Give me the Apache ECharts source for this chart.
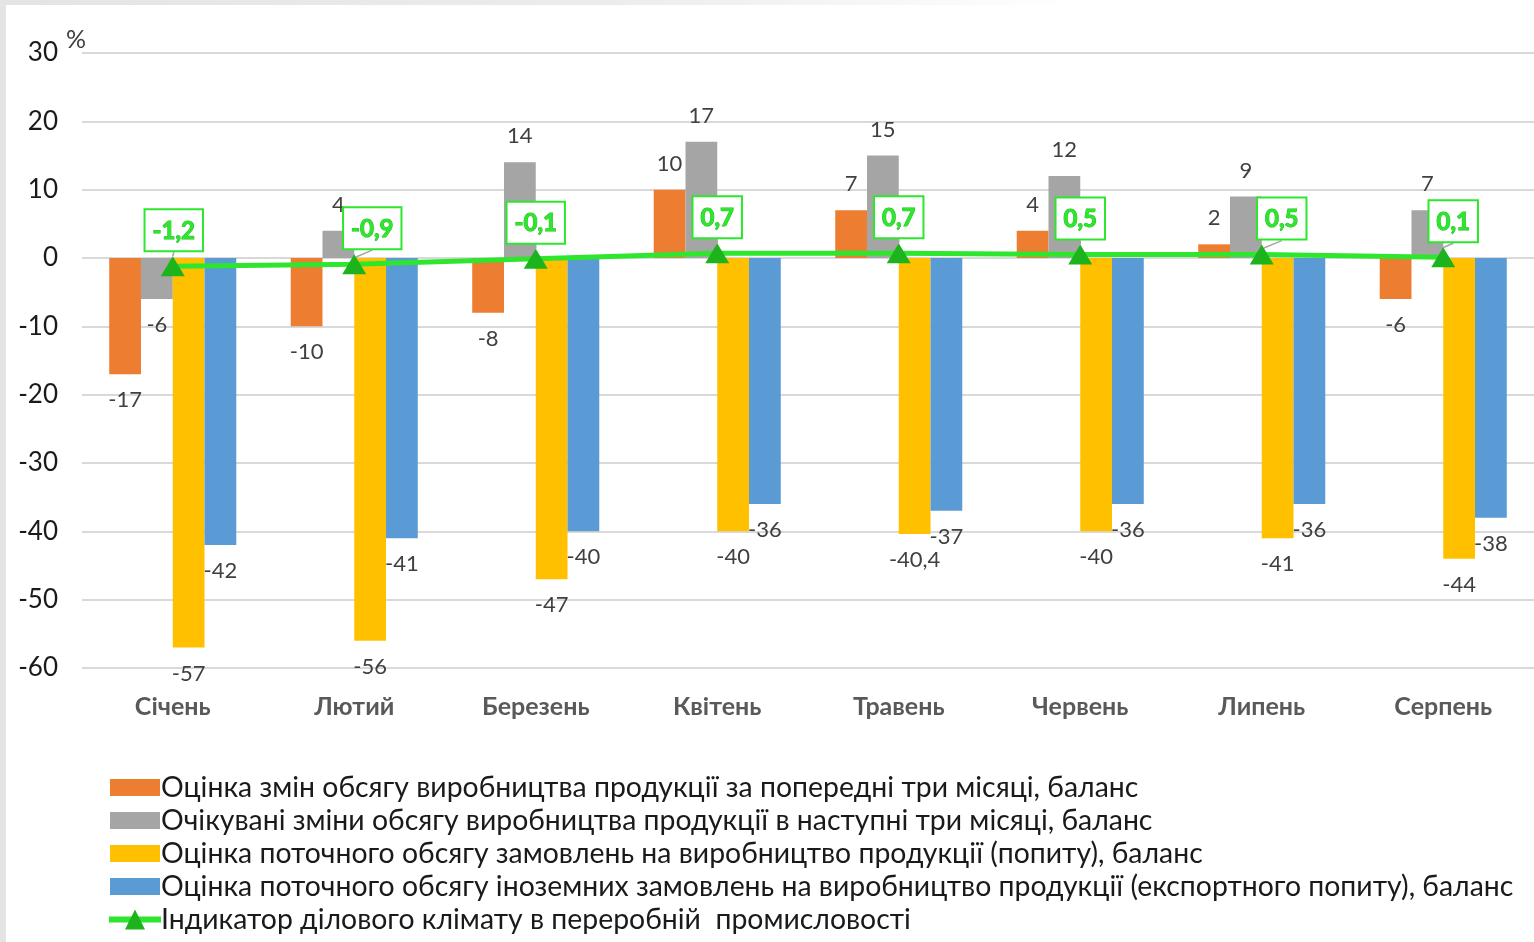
<!DOCTYPE html>
<html>
<head>
<meta charset="utf-8">
<script src="https://cdn.jsdelivr.net/npm/echarts@6/dist/echarts.min.js"></script>
<style>
html,body{margin:0;padding:0;width:1534px;height:942px;overflow:hidden;background:#fff;}
#frameL{position:absolute;left:0;top:0;width:6px;height:942px;background:#e4e4e4;}
#frameT{position:absolute;left:0;top:0;width:1534px;height:5px;background:linear-gradient(to right,#e4e4e4 0%,#ececec 40%,#ffffff 70%);}
#chart{position:absolute;left:6px;top:5px;width:1528px;height:937px;background:#fff;}
</style>
</head>
<body>
<div id="frameL"></div><div id="frameT"></div>
<div id="chart"></div>
<script>
const months = ['Січень','Лютий','Березень','Квітень','Травень','Червень','Липень','Серпень'];
const seriesNames = [
  'Оцінка змін обсягу виробництва продукції за попередні три місяці, баланс',
  'Очікувані зміни обсягу виробництва продукції в наступні три місяці, баланс',
  'Оцінка поточного обсягу замовлень на виробництво продукції (попиту), баланс',
  'Оцінка поточного обсягу іноземних замовлень на виробництво продукції (експортного попиту), баланс',
  'Індикатор ділового клімату в переробній  промисловості'
];
const productionPast = [-17, -10, -8, 10, 7, 4, 2, -6];
const productionNext = [-6, 4, 14, 17, 15, 12, 9, 7];
const ordersCurrent = [-57, -56, -47, -40, -40.4, -40, -41, -44];
const exportOrders = [-42, -41, -40, -36, -37, -36, -36, -38];
const climateIndicator = [-1.2, -0.9, -0.1, 0.7, 0.7, 0.5, 0.5, 0.1];
const yTicks = {min: -60, max: 30, step: 10};

const climateLabelShift = [1, 18, 0, 0, 0, 0, 20, 10];
const fmt = v => String(v).replace('.', ',');
const barColors = ['#ED7D31', '#A5A5A5', '#FFC000', '#5B9BD5'];
const barLegendIcon = 'path://M0,0 M0,4 L50,4 L50,21 L0,21 Z M50,25';

function barSeries(name, values, color) {
  return {
    name: name,
    type: 'bar',
    barGap: '0%',
    barCategoryGap: '30%',
    itemStyle: {color: color},
    data: values.map(v => ({
      value: v,
      label: {position: v < 0 ? 'bottom' : 'top'}
    })),
    label: {
      show: true,
      distance: 15,
      fontFamily: 'Lato',
      fontSize: 22,
      color: '#404040',
      formatter: p => fmt(p.value)
    },
    z: 2
  };
}

const chart = echarts.init(document.getElementById('chart'));
chart.setOption({
  animation: false,
  textStyle: {fontFamily: 'Lato'},
  grid: {left: 76, top: 48, width: 1464, height: 615, containLabel: false},
  xAxis: {
    type: 'category',
    data: months,
    axisLine: {show: false},
    axisTick: {show: false},
    axisLabel: {fontFamily: 'Lato', fontSize: 25, fontWeight: 'bold', color: '#595959', margin: 26}
  },
  yAxis: {
    type: 'value',
    min: yTicks.min,
    max: yTicks.max,
    interval: yTicks.step,
    axisLine: {show: false},
    axisTick: {show: false},
    splitLine: {lineStyle: {color: '#d9d9d9', width: 2}},
    axisLabel: {fontFamily: 'Lato', fontSize: 26, color: '#1a1a1a', margin: 24}
  },
  graphic: [{
    type: 'text', left: 60, top: 22,
    style: {text: '%', fontFamily: 'Lato', fontSize: 25, fill: '#404040'}
  }],
  legend: {
    orient: 'vertical',
    left: 100,
    top: 766,
    padding: 0,
    itemWidth: 52,
    itemHeight: 25,
    itemGap: 0,
    textStyle: {fontFamily: 'Lato', fontSize: 28.4, color: '#1a1a1a', lineHeight: 33, padding: [0, 0, 0, -5]},
    data: seriesNames.map((n, i) => i < 4 ? {name: n, icon: barLegendIcon} : {name: n, lineStyle: {width: 6, color: '#2EE62E'}})
  },
  series: [
    barSeries(seriesNames[0], productionPast, barColors[0]),
    barSeries(seriesNames[1], productionNext, barColors[1]),
    barSeries(seriesNames[2], ordersCurrent, barColors[2]),
    barSeries(seriesNames[3], exportOrders, barColors[3]),
    {
      name: seriesNames[4],
      type: 'line',
      data: climateIndicator,
      z: 5,
      symbol: 'triangle',
      symbolSize: [24, 20],
      lineStyle: {color: '#2EE62E', width: 5},
      itemStyle: {color: '#1DB31D'},
      label: {
        show: true,
        position: 'top',
        distance: 6,
        formatter: p => fmt(p.value),
        fontFamily: 'Lato',
        fontSize: 24,
        fontWeight: 'bold',
        color: '#2EE62E',
        textBorderColor: '#22c022',
        textBorderWidth: 1,
        backgroundColor: '#ffffff',
        borderColor: '#2EE62E',
        borderWidth: 2,
        padding: [9, 7, 7, 7]
      },
      labelLine: {show: true, lineStyle: {color: '#A6A6A6', width: 1.5}},
      labelLayout: p => ({dx: climateLabelShift[p.dataIndex]})
    }
  ]
});
</script>
</body>
</html>
